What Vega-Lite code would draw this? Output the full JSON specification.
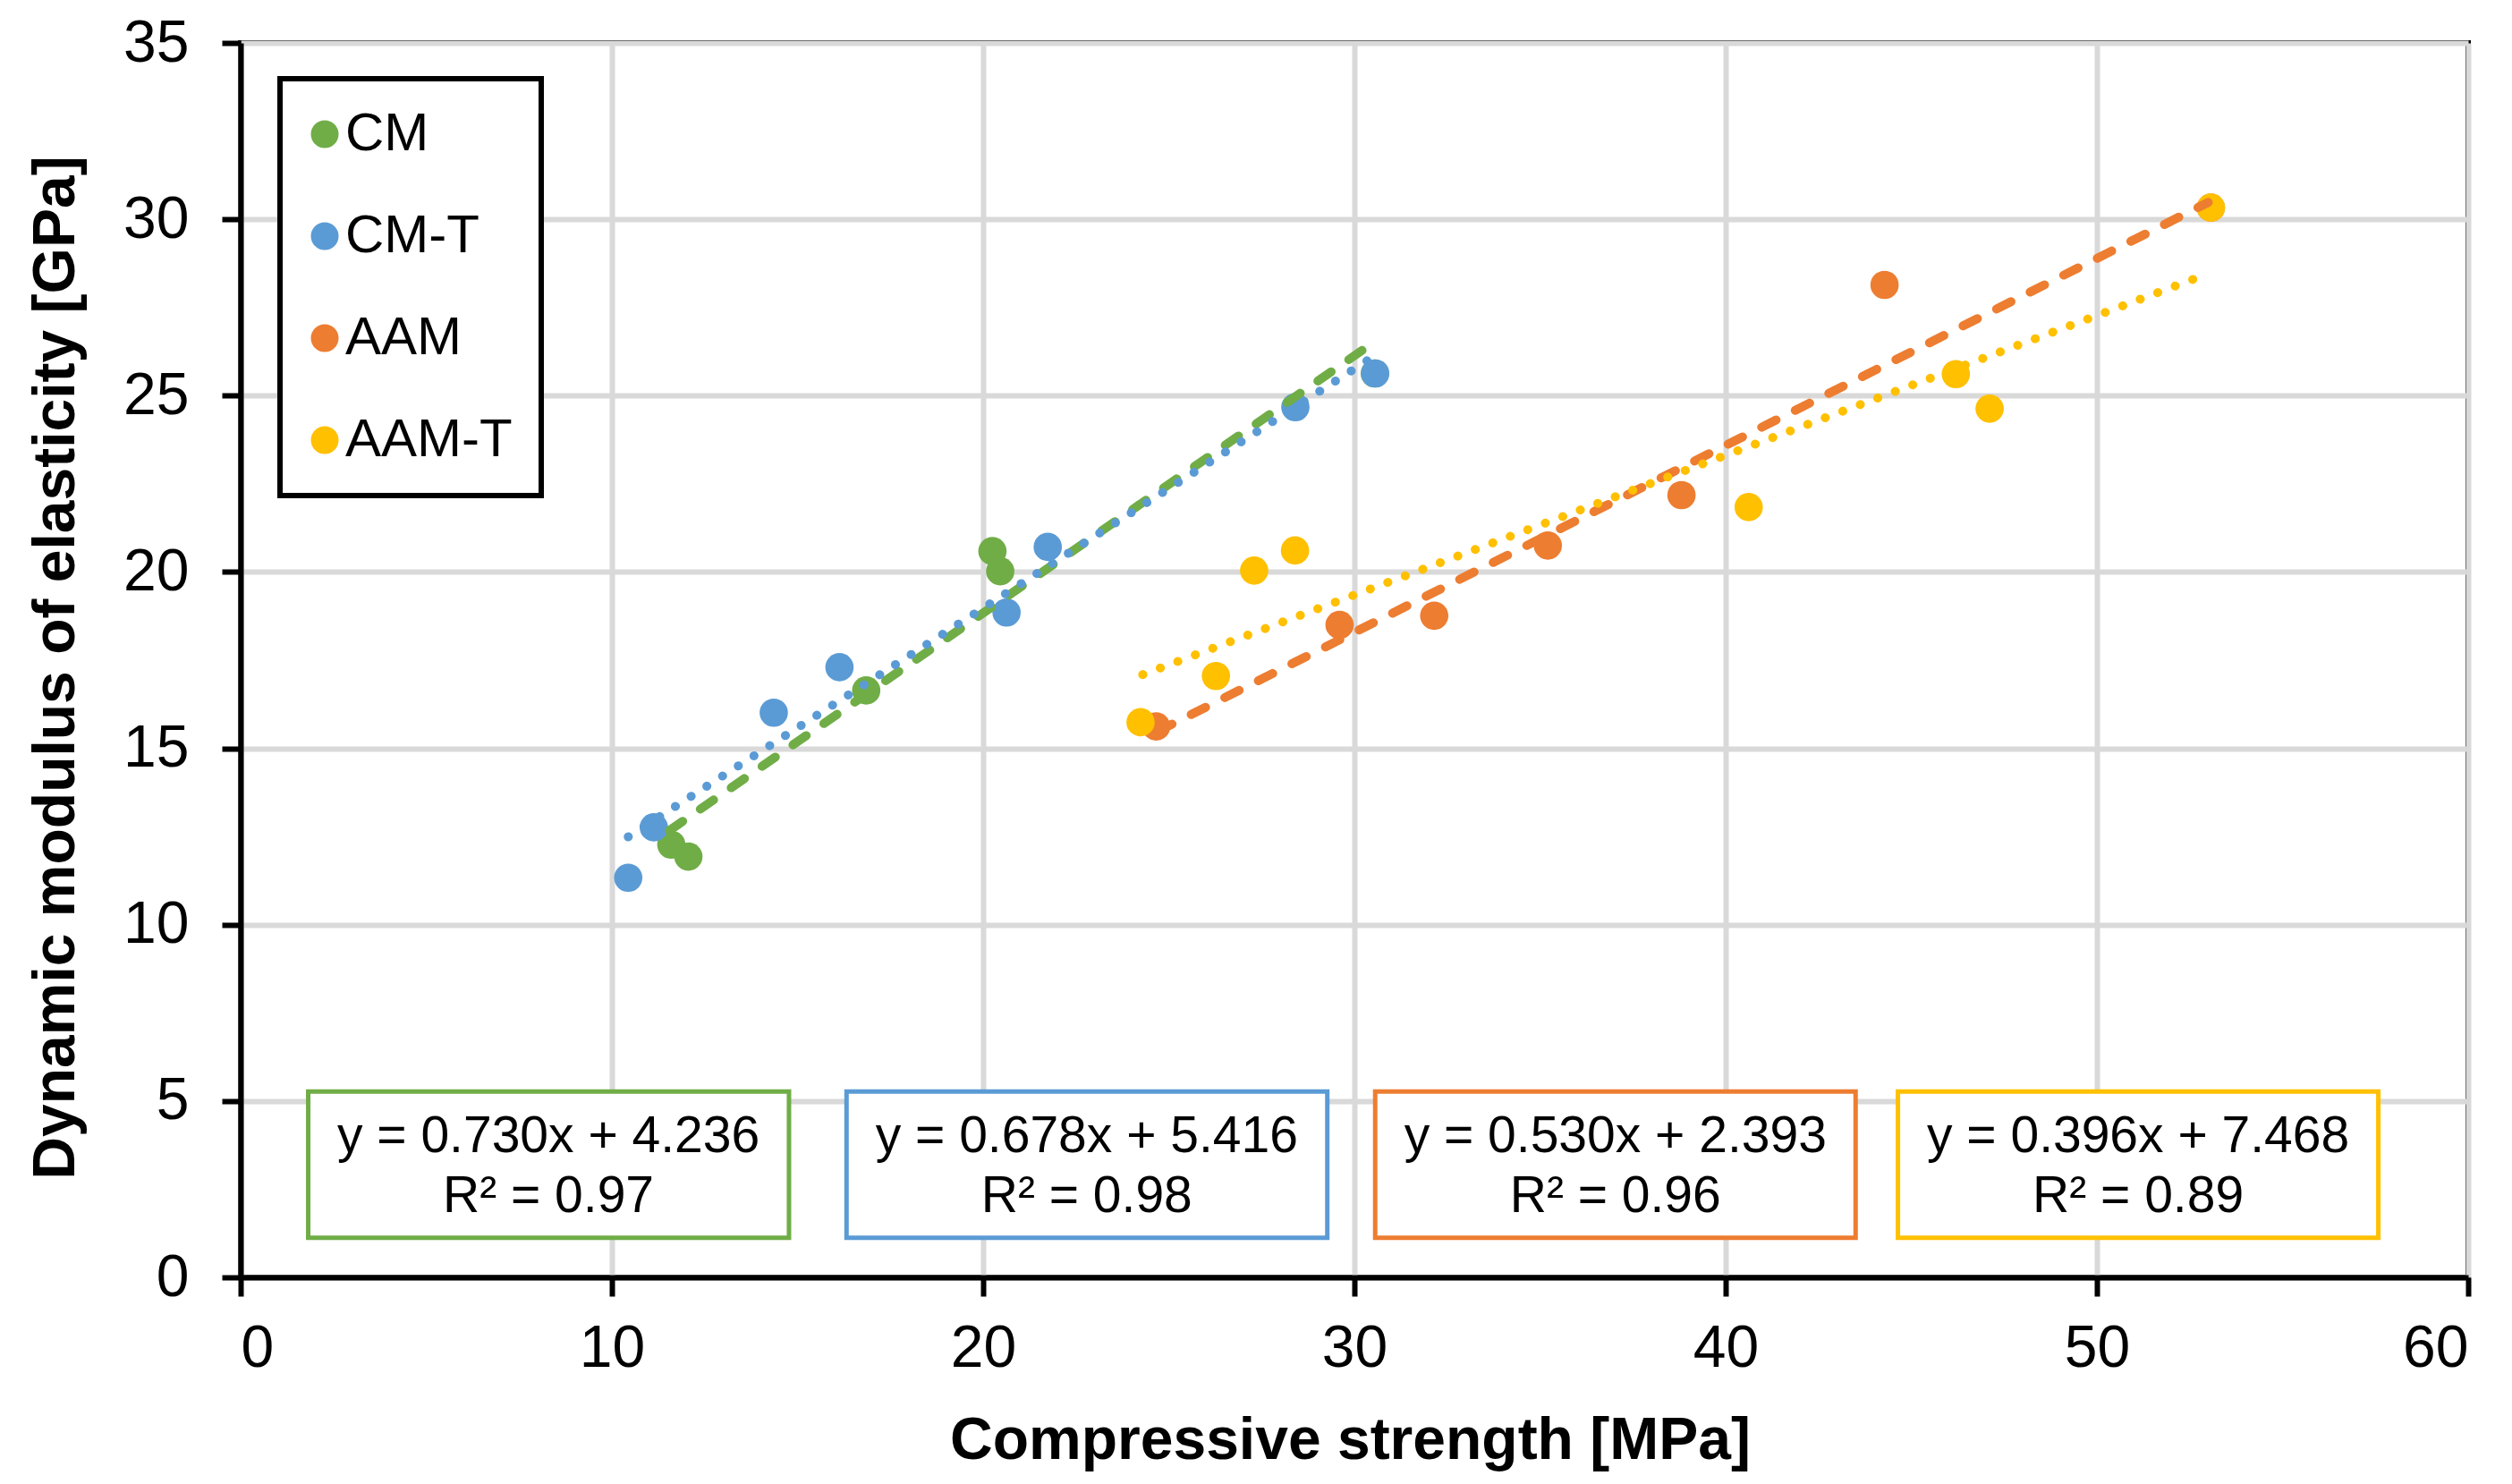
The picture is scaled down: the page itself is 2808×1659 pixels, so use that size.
{
  "$schema": "https://vega.github.io/schema/vega-lite/v6.json",
  "width": 2490,
  "height": 1380,
  "autosize": {"type": "none"},
  "padding": {"left": 269, "top": 48, "right": 49, "bottom": 231},
  "background": "white",
  "config": {
    "font": "Liberation Sans",
    "view": {"stroke": "black", "strokeWidth": 6},
    "axis": {
      "labelFont": "Liberation Sans",
      "labelFontSize": 66,
      "labelColor": "black",
      "titleFont": "Liberation Sans",
      "titleFontSize": 66,
      "titleFontWeight": "bold",
      "titleColor": "black",
      "domainColor": "black",
      "domainWidth": 6,
      "tickColor": "black",
      "tickWidth": 6,
      "tickSize": 21,
      "gridColor": "#D9D9D9",
      "gridWidth": 6
    },
    "legend": {"strokeWidth": 6}
  },
  "datasets": {
    "points": [
      {"series": "CM", "x": 11.6, "y": 12.27},
      {"series": "CM", "x": 12.06, "y": 11.93},
      {"series": "CM", "x": 16.85, "y": 16.64},
      {"series": "CM", "x": 20.25, "y": 20.59},
      {"series": "CM", "x": 20.46, "y": 20.02},
      {"series": "CM", "x": 30.55, "y": 25.63},
      {"series": "CM-T", "x": 10.44, "y": 11.33},
      {"series": "CM-T", "x": 11.13, "y": 12.76},
      {"series": "CM-T", "x": 14.36, "y": 16.01},
      {"series": "CM-T", "x": 16.13, "y": 17.3},
      {"series": "CM-T", "x": 20.63, "y": 18.85},
      {"series": "CM-T", "x": 21.74, "y": 20.71},
      {"series": "CM-T", "x": 28.41, "y": 24.67},
      {"series": "CM-T", "x": 30.56, "y": 25.63},
      {"series": "AAM", "x": 24.66, "y": 15.62},
      {"series": "AAM", "x": 29.6, "y": 18.5},
      {"series": "AAM", "x": 32.15, "y": 18.76},
      {"series": "AAM", "x": 35.21, "y": 20.75},
      {"series": "AAM", "x": 38.81, "y": 22.18},
      {"series": "AAM", "x": 44.28, "y": 28.14},
      {"series": "AAM", "x": 53.07, "y": 30.33},
      {"series": "AAM-T", "x": 24.24, "y": 15.74},
      {"series": "AAM-T", "x": 26.27, "y": 17.05},
      {"series": "AAM-T", "x": 27.3, "y": 20.04},
      {"series": "AAM-T", "x": 28.4, "y": 20.61},
      {"series": "AAM-T", "x": 40.62, "y": 21.84},
      {"series": "AAM-T", "x": 46.2, "y": 25.61},
      {"series": "AAM-T", "x": 47.11, "y": 24.63},
      {"series": "AAM-T", "x": 53.07, "y": 30.33}
    ],
    "trends": [
      {"series": "CM", "x": 11.55, "y": 12.67},
      {"series": "CM", "x": 30.6, "y": 26.57},
      {"series": "CM-T", "x": 10.44, "y": 12.49},
      {"series": "CM-T", "x": 30.4, "y": 26.03},
      {"series": "AAM", "x": 24.7, "y": 15.48},
      {"series": "AAM", "x": 53.0, "y": 30.48},
      {"series": "AAM-T", "x": 24.3, "y": 17.09},
      {"series": "AAM-T", "x": 52.95, "y": 28.44}
    ],
    "boxes": [
      {"series": "CM", "x": 8.29, "xl": 1.82, "xr": 14.77, "eq": "y = 0.730x + 4.236", "r2": "R² = 0.97"},
      {"series": "CM-T", "x": 22.79, "xl": 16.32, "xr": 29.27, "eq": "y = 0.678x + 5.416", "r2": "R² = 0.98"},
      {"series": "AAM", "x": 37.03, "xl": 30.56, "xr": 43.5, "eq": "y = 0.530x + 2.393", "r2": "R² = 0.96"},
      {"series": "AAM-T", "x": 51.11, "xl": 44.64, "xr": 57.58, "eq": "y = 0.396x + 7.468", "r2": "R² = 0.89"}
    ]
  },
  "layer": [
    {
      "data": {"name": "points"},
      "mark": {"type": "circle", "size": 1000, "opacity": 1},
      "encoding": {
        "x": {
          "field": "x",
          "type": "quantitative",
          "title": "Compressive strength [MPa]",
          "scale": {"domain": [0, 60], "nice": false},
          "axis": {
            "values": [0, 10, 20, 30, 40, 50, 60],
            "labelPadding": 26,
            "titleX": 1240,
            "titleY": 202,
            "titleBaseline": "alphabetic",
            "titleAlign": "center"
          }
        },
        "y": {
          "field": "y",
          "type": "quantitative",
          "title": "Dynamic modulus of elasticity [GPa]",
          "scale": {"domain": [0, 35], "nice": false},
          "axis": {
            "values": [0, 5, 10, 15, 20, 25, 30, 35],
            "labelPadding": 37,
            "titleX": -207,
            "titleY": 698,
            "titleAngle": 270,
            "titleBaseline": "middle",
            "titleAlign": "center"
          }
        },
        "color": {
          "field": "series",
          "type": "nominal",
          "scale": {
            "domain": ["CM", "CM-T", "AAM", "AAM-T"],
            "range": ["#70AD47", "#5B9BD5", "#ED7D31", "#FFC000"]
          },
          "legend": {
            "title": null,
            "orient": "none",
            "legendX": 44,
            "legendY": 40,
            "padding": 32,
            "rowPadding": 54,
            "symbolType": "circle",
            "symbolSize": 962,
            "symbolStrokeWidth": 0,
            "symbolOffset": -12,
            "labelFontSize": 60,
            "labelFont": "Liberation Sans",
            "labelColor": "black",
            "labelOffset": -7,
            "labelLimit": 400,
            "strokeColor": "black",
            "fillColor": "white"
          }
        }
      }
    },
    {
      "data": {"name": "trends"},
      "mark": {"type": "line", "strokeWidth": 10, "strokeCap": "round"},
      "encoding": {
        "x": {"field": "x", "type": "quantitative", "title": "Compressive strength [MPa]"},
        "y": {"field": "y", "type": "quantitative", "title": "Dynamic modulus of elasticity [GPa]"},
        "detail": {"field": "series"},
        "stroke": {
          "field": "series",
          "type": "nominal",
          "scale": {
            "domain": ["CM", "CM-T", "AAM", "AAM-T"],
            "range": ["#70AD47", "#5B9BD5", "#ED7D31", "#FFC000"]
          },
          "legend": null
        },
        "strokeDash": {
          "field": "series",
          "type": "nominal",
          "scale": {
            "domain": ["CM", "CM-T", "AAM", "AAM-T"],
            "range": [[18, 24], [0.1, 20.8], [18, 24], [0.1, 20.8]]
          },
          "legend": null
        }
      }
    },
    {
      "data": {"name": "boxes"},
      "mark": {"type": "rect", "fill": "white", "strokeWidth": 5},
      "encoding": {
        "x": {"field": "xl", "type": "quantitative", "title": "Compressive strength [MPa]"},
        "x2": {"field": "xr"},
        "y": {"datum": 5.27, "type": "quantitative", "title": "Dynamic modulus of elasticity [GPa]"},
        "y2": {"datum": 1.12},
        "stroke": {
          "field": "series",
          "type": "nominal",
          "scale": {
            "domain": ["CM", "CM-T", "AAM", "AAM-T"],
            "range": ["#70AD47", "#5B9BD5", "#ED7D31", "#FFC000"]
          },
          "legend": null
        }
      }
    },
    {
      "data": {"name": "boxes"},
      "mark": {"type": "text", "fontSize": 57, "font": "Liberation Sans", "color": "black", "baseline": "alphabetic", "align": "center"},
      "encoding": {
        "x": {"field": "x", "type": "quantitative", "title": "Compressive strength [MPa]"},
        "y": {"datum": 3.56, "type": "quantitative", "title": "Dynamic modulus of elasticity [GPa]"},
        "text": {"field": "eq"}
      }
    },
    {
      "data": {"name": "boxes"},
      "mark": {"type": "text", "fontSize": 57, "font": "Liberation Sans", "color": "black", "baseline": "alphabetic", "align": "center"},
      "encoding": {
        "x": {"field": "x", "type": "quantitative", "title": "Compressive strength [MPa]"},
        "y": {"datum": 1.85, "type": "quantitative", "title": "Dynamic modulus of elasticity [GPa]"},
        "text": {"field": "r2"}
      }
    }
  ]
}
